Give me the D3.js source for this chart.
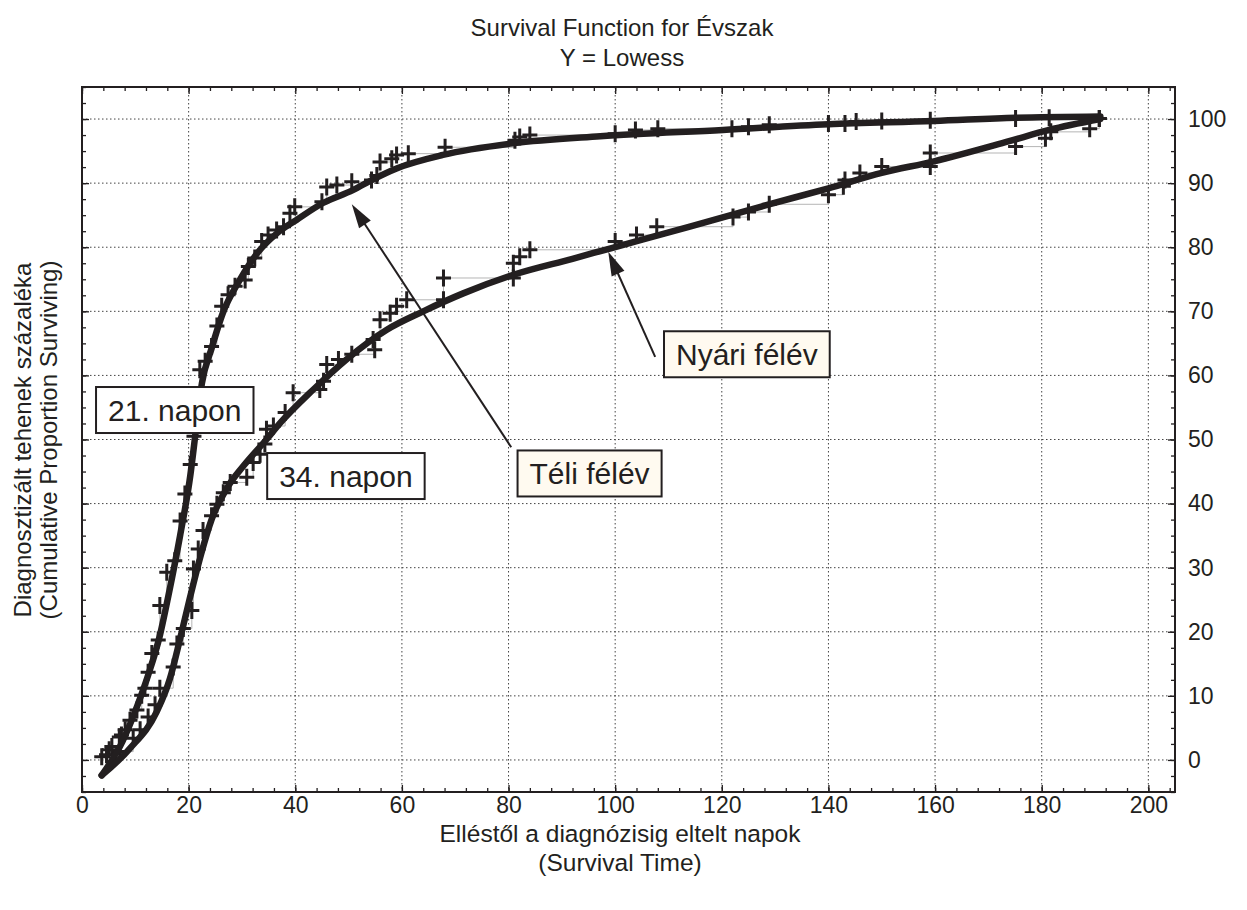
<!DOCTYPE html>
<html>
<head>
<meta charset="utf-8">
<script src="https://cdn.jsdelivr.net/npm/d3@7"></script>
<style>
  body { margin: 0; background: #fff; }
  svg { display: block; }
</style>
</head>
<body>
<div id="chart"></div>
<script>
// ---- data ----
var xTicks = [0, 20, 40, 60, 80, 100, 120, 140, 160, 180, 200];
var yTicks = [0, 10, 20, 30, 40, 50, 60, 70, 80, 90, 100];

// Téli félév (winter) - observed points [day, percent]
var teliPoints = [
  [3.7, 0.5], [5.1, 1.6], [5.6, 2.1], [7.0, 3.6], [7.4, 3.9], [8.1, 4.7], [9.0, 6.2],
  [10.3, 7.8], [11.2, 10.1], [11.8, 11.2], [12.4, 13.7], [13.1, 16.6], [14.3, 18.7],
  [14.6, 24.1], [15.9, 29.3], [17.4, 31.1], [18.4, 37.3], [19.3, 41.5], [20.3, 46.1],
  [21.0, 50.5], [21.6, 55.5], [22.1, 60.9], [23.1, 62.2], [24.3, 64.5], [25.3, 67.7],
  [26.2, 70.8], [27.4, 72.6], [28.7, 73.9], [30.6, 74.9], [31.2, 77.0], [32.4, 78.3],
  [33.7, 80.9], [34.9, 81.9], [36.5, 82.7], [37.8, 83.2], [39.0, 85.3], [39.9, 86.3],
  [45.0, 87.1], [45.9, 89.4], [47.8, 89.7], [50.6, 90.2], [54.3, 90.5], [55.3, 91.2],
  [55.9, 93.3], [58.1, 93.8], [59.0, 94.4], [61.2, 94.6], [68.1, 95.6], [81.2, 96.7],
  [82.1, 97.2], [84.0, 97.5], [100.0, 97.7], [103.8, 98.3], [108.0, 98.5], [121.9, 98.5],
  [125.0, 98.8], [128.9, 99.1], [140.0, 99.3], [143.1, 99.3], [145.2, 99.6], [150.0, 99.7],
  [159.1, 99.8], [175.1, 100.1], [181.4, 100.2], [190.8, 100.1]
];

// Nyári félév (summer) - observed points [day, percent]
var nyariPoints = [
  [4.6, 0.8], [7.1, 1.3], [9.6, 3.4], [10.9, 4.7], [12.4, 6.7], [13.7, 8.6], [14.6, 11.2],
  [17.1, 14.5], [17.8, 18.1], [19.0, 20.5], [20.6, 23.3], [20.9, 29.8], [21.8, 32.9],
  [22.7, 35.8], [24.3, 38.1], [25.3, 39.9], [26.5, 41.7], [27.8, 43.3], [30.9, 44.1],
  [32.1, 46.4], [33.4, 47.7], [34.3, 49.3], [34.6, 51.6], [35.9, 52.1], [38.1, 54.2],
  [39.6, 57.3], [44.6, 57.8], [45.3, 59.1], [45.9, 61.7], [48.1, 62.5], [50.6, 63.3],
  [54.9, 64.0], [54.6, 65.6], [55.9, 68.7], [57.8, 69.7], [59.0, 70.8], [60.9, 71.8],
  [67.8, 71.8], [67.8, 75.2], [80.9, 75.2], [80.9, 77.5], [82.1, 78.5], [84.0, 79.6],
  [100.0, 80.9], [104.0, 81.9], [107.8, 83.2], [122.1, 84.7], [125.0, 85.5], [128.9, 86.7],
  [140.0, 88.2], [142.8, 89.5], [143.1, 90.5], [145.9, 91.6], [150.0, 92.6], [159.1, 92.6],
  [159.1, 94.7], [175.1, 95.7], [180.7, 97.0], [181.7, 98.0], [189.0, 98.5], [190.8, 100.1]
];

// Lowess smooth lines
var teliLowess = [
  [3.7, -2.4], [7.6, 2.9], [10.4, 8.5], [12.4, 13.2], [14.6, 19.4], [16.2, 25.6], [18.4, 35.0],
  [20.3, 44.3], [21.3, 51.0], [22.5, 58.8], [24.3, 64.2], [26.4, 69.7], [29.6, 74.9],
  [32.9, 79.1], [36.6, 82.2], [40.3, 84.3], [45.2, 86.9], [50.8, 88.9], [54.6, 90.6],
  [59.0, 92.3], [67.7, 94.4], [80.8, 96.2], [97.2, 97.3], [120.2, 98.3], [140.0, 99.2],
  [159.8, 99.7], [175.1, 100.2], [191.0, 100.4]
];
var nyariLowess = [
  [3.7, -2.4], [9.0, 1.8], [14.0, 7.5], [16.5, 12.7], [18.4, 18.9], [20.3, 25.5], [22.3, 32.0],
  [24.3, 37.5], [27.1, 42.3], [30.3, 45.9], [34.6, 50.0], [37.1, 52.5], [43.4, 57.8],
  [49.6, 62.5], [57.1, 67.1], [64.0, 70.0], [71.5, 72.8], [80.9, 75.7], [92.0, 78.2],
  [99.0, 79.8], [114.0, 83.2], [128.5, 86.6], [140.0, 89.2], [150.0, 91.6], [159.8, 93.4],
  [173.7, 96.5], [181.4, 98.3], [191.0, 100.0]
];

// annotation boxes (box centre in data units)
var boxLabels = ["21. napon", "34. napon", "Téli félév", "Nyári félév"];
var boxX = [17.4, 49.5, 95.2, 124.7];
var boxY = [54.6, 44.3, 44.7, 63.3];
var boxFill = ["#ffffff", "#ffffff", "#fffaf0", "#fffaf0"];

// arrows [fromX, fromY, toX, toY]
var arrows = [
  [80.5, 48.8, 50.6, 86.7],
  [107.5, 62.9, 98.7, 79.3]
];

// ---- layout ----
var W = 1247, H = 910;
var ink = "#231f20";
var font = '"Liberation Sans", Arial, Helvetica, sans-serif';

var svg = d3.select("#chart")
  .append("svg")
  .attr("width", W)
  .attr("height", H);

var x = d3.scaleLinear().domain([0, 205]).range([82, 1175]);
var y = d3.scaleLinear().domain([-5, 105]).range([792, 87]);

// gridlines
svg.append("g").selectAll("line")
  .data(xTicks.filter(function (d) { return d > 0; }))
  .enter().append("line")
  .attr("x1", function (d) { return x(d); })
  .attr("x2", function (d) { return x(d); })
  .attr("y1", y(105)).attr("y2", y(-5))
  .attr("stroke", "#444").attr("stroke-width", 1)
  .attr("stroke-dasharray", "1.5,2.5");

svg.append("g").selectAll("line")
  .data(yTicks)
  .enter().append("line")
  .attr("y1", function (d) { return y(d); })
  .attr("y2", function (d) { return y(d); })
  .attr("x1", x(0)).attr("x2", x(205))
  .attr("stroke", "#444").attr("stroke-width", 1)
  .attr("stroke-dasharray", "1.5,2.5");

// axes (inward ticks)
var xMinor = d3.range(0, 205, 4);
var yMinor = d3.range(-5, 105.1, 2.5);

function styleAxis(g) {
  g.select(".domain").remove();
  g.selectAll("line").attr("stroke", ink).attr("stroke-width", 1.3);
}

svg.append("g")
  .attr("transform", "translate(0," + y(-5) + ")")
  .call(d3.axisBottom(x).tickValues(xMinor).tickSize(-4).tickFormat(""))
  .call(styleAxis);
svg.append("g")
  .attr("transform", "translate(0," + y(105) + ")")
  .call(d3.axisTop(x).tickValues(xMinor).tickSize(-4).tickFormat(""))
  .call(styleAxis);
svg.append("g")
  .attr("transform", "translate(" + x(0) + ",0)")
  .call(d3.axisLeft(y).tickValues(yMinor).tickSize(-4).tickFormat(""))
  .call(styleAxis);
svg.append("g")
  .attr("transform", "translate(" + x(205) + ",0)")
  .call(d3.axisRight(y).tickValues(yMinor).tickSize(-4).tickFormat(""))
  .call(styleAxis);

var xAxis = svg.append("g")
  .attr("transform", "translate(0," + y(-5) + ")")
  .call(d3.axisBottom(x).tickValues(xTicks).tickSize(-7).tickPadding(5))
  .call(styleAxis);
xAxis.selectAll("text")
  .attr("fill", ink)
  .style("font-family", font)
  .style("font-size", "23px");

svg.append("g")
  .attr("transform", "translate(0," + y(105) + ")")
  .call(d3.axisTop(x).tickValues(xTicks).tickSize(-7).tickFormat(""))
  .call(styleAxis);
svg.append("g")
  .attr("transform", "translate(" + x(0) + ",0)")
  .call(d3.axisLeft(y).tickValues(yTicks).tickSize(-7).tickFormat(""))
  .call(styleAxis);

var yAxis = svg.append("g")
  .attr("transform", "translate(" + x(205) + ",0)")
  .call(d3.axisRight(y).tickValues(yTicks).tickSize(-7).tickPadding(13))
  .call(styleAxis);
yAxis.selectAll("text")
  .attr("fill", ink)
  .style("font-family", font)
  .style("font-size", "23px");

// frame
svg.append("rect")
  .attr("x", x(0)).attr("y", y(105))
  .attr("width", x(205) - x(0)).attr("height", y(-5) - y(105))
  .attr("fill", "none").attr("stroke", ink).attr("stroke-width", 2);

// thin grey step lines between observed points
var step = d3.line()
  .x(function (d) { return x(d[0]); })
  .y(function (d) { return y(d[1]); })
  .curve(d3.curveStepAfter);

[teliPoints, nyariPoints].forEach(function (pts) {
  svg.append("path")
    .datum(pts)
    .attr("d", step)
    .attr("fill", "none")
    .attr("stroke", "#b5b5b5")
    .attr("stroke-width", 1);
});

// plus markers
[teliPoints, nyariPoints].forEach(function (pts) {
  svg.append("g").selectAll("path")
    .data(pts)
    .enter().append("path")
    .attr("transform", function (d) { return "translate(" + x(d[0]) + "," + y(d[1]) + ")"; })
    .attr("d", "M-7.5,0H7.5M0,-8.5V8.5")
    .attr("stroke", ink)
    .attr("stroke-width", 3);
});

// lowess lines
var smooth = d3.line()
  .x(function (d) { return x(d[0]); })
  .y(function (d) { return y(d[1]); })
  .curve(d3.curveMonotoneX);

[teliLowess, nyariLowess].forEach(function (pts) {
  svg.append("path")
    .datum(pts)
    .attr("d", smooth)
    .attr("fill", "none")
    .attr("stroke", ink)
    .attr("stroke-width", 6.5)
    .attr("stroke-linecap", "round")
    .attr("stroke-linejoin", "round");
});

// arrows
arrows.forEach(function (a) {
  var x1 = x(a[0]), y1 = y(a[1]), x2 = x(a[2]), y2 = y(a[3]);
  var ang = Math.atan2(y2 - y1, x2 - x1);
  var len = 24, half = 7;
  var bx = x2 - len * Math.cos(ang), by = y2 - len * Math.sin(ang);
  svg.append("line")
    .attr("x1", x1).attr("y1", y1)
    .attr("x2", bx + 4 * Math.cos(ang)).attr("y2", by + 4 * Math.sin(ang))
    .attr("stroke", ink).attr("stroke-width", 2);
  var pts = [
    [x2, y2],
    [bx + half * Math.sin(ang), by - half * Math.cos(ang)],
    [bx - half * Math.sin(ang), by + half * Math.cos(ang)]
  ];
  svg.append("polygon")
    .attr("points", pts.map(function (p) { return p.join(","); }).join(" "))
    .attr("fill", ink);
});

// annotation boxes
boxLabels.forEach(function (lab, i) {
  var g = svg.append("g");
  var r = g.append("rect");
  var t = g.append("text")
    .attr("x", x(boxX[i]))
    .attr("y", y(boxY[i]))
    .attr("dy", "0.36em")
    .attr("text-anchor", "middle")
    .attr("fill", ink)
    .style("font-family", font)
    .style("font-size", "30px")
    .text(lab);
  var bb = t.node().getBBox();
  var padX = 12;
  r.attr("x", bb.x - padX)
    .attr("y", y(boxY[i]) - 23)
    .attr("width", bb.width + 2 * padX)
    .attr("height", 46)
    .attr("fill", boxFill[i])
    .attr("stroke", ink)
    .attr("stroke-width", 2);
});

// titles
svg.append("text")
  .attr("x", 622).attr("y", 36)
  .attr("text-anchor", "middle")
  .attr("fill", ink)
  .style("font-family", font)
  .style("font-size", "24px")
  .text("Survival Function for Évszak");
svg.append("text")
  .attr("x", 622).attr("y", 66)
  .attr("text-anchor", "middle")
  .attr("fill", ink)
  .style("font-family", font)
  .style("font-size", "24px")
  .text("Y = Lowess");

// x axis title
svg.append("text")
  .attr("x", 620).attr("y", 842)
  .attr("text-anchor", "middle")
  .attr("fill", ink)
  .style("font-family", font)
  .style("font-size", "24.5px")
  .text("Elléstől a diagnózisig eltelt napok");
svg.append("text")
  .attr("x", 620).attr("y", 871)
  .attr("text-anchor", "middle")
  .attr("fill", ink)
  .style("font-family", font)
  .style("font-size", "24.5px")
  .text("(Survival Time)");

// y axis title
svg.append("text")
  .attr("transform", "translate(30.5,440) rotate(-90)")
  .attr("text-anchor", "middle")
  .attr("fill", ink)
  .style("font-family", font)
  .style("font-size", "24px")
  .text("Diagnosztizált tehenek százaléka");
svg.append("text")
  .attr("transform", "translate(56.5,440) rotate(-90)")
  .attr("text-anchor", "middle")
  .attr("fill", ink)
  .style("font-family", font)
  .style("font-size", "24px")
  .text("(Cumulative Proportion Surviving)");
</script>
</body>
</html>
